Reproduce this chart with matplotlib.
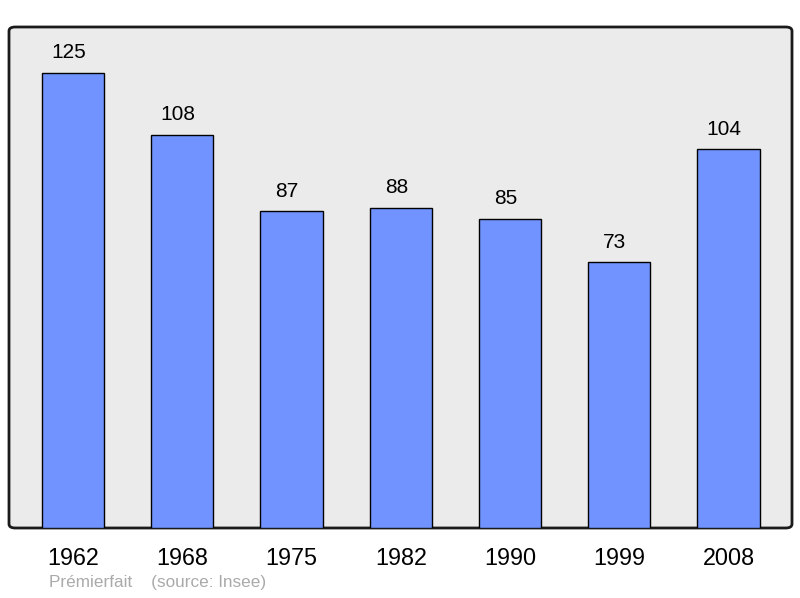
import matplotlib.pyplot as plt
from matplotlib.patches import FancyBboxPatch

plt.rcParams['font.family'] = ['Liberation Sans', 'DejaVu Sans']

years = ["1962", "1968", "1975", "1982", "1990", "1999", "2008"]
population = [125, 108, 87, 88, 85, 73, 104]

fig = plt.figure(figsize=(8.0, 5.98), dpi=100)
ax = fig.add_axes([9/800, 1 - 528/598, 783/800, 501/598])
ax.set_facecolor("none")

# rounded grey frame
frame = FancyBboxPatch((0, 0), 1, 1, boxstyle="round,pad=0,rounding_size=0.008",
                       transform=ax.transAxes, facecolor="#ebebeb",
                       edgecolor="#1a1a1a", linewidth=2, zorder=0, clip_on=False)
ax.add_patch(frame)
for s in ax.spines.values():
    s.set_visible(False)

x = range(len(years))
bars = ax.bar(x, population, width=0.57, color="#7093ff", edgecolor="black",
              linewidth=1, zorder=2)

# value labels sit a little left of the bar centre in the original
for xi, v in zip(x, population):
    ax.annotate(str(v), (xi, v), xytext=(-3.2, 7.5), textcoords="offset points",
                ha="center", va="bottom", fontsize=15)

ax.set_xlim(-0.585, 6.58)
ax.set_ylim(0, 137.6)
ax.set_xticks(list(x))
ax.set_xticklabels(years, fontsize=16.8)
ax.tick_params(axis="x", length=0, pad=13.5)
ax.set_yticks([])

fig.text(49/800, 1 - 583/598, "Prémierfait    (source: Insee)", fontsize=12.3,
         color="#aaaaaa", ha="left", va="center")

plt.savefig("out.png", dpi=100)
